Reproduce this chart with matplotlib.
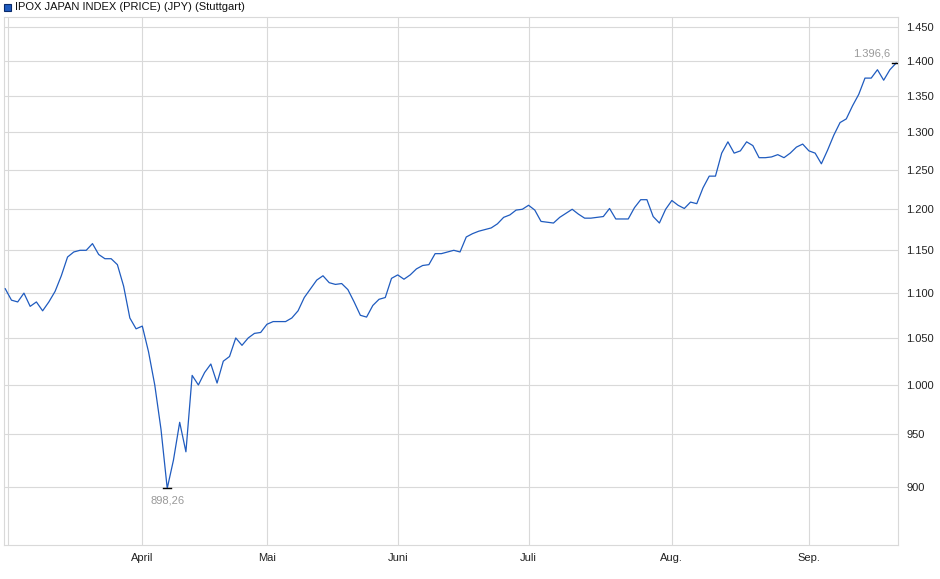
import matplotlib
matplotlib.use("Agg")
import matplotlib.pyplot as plt
from matplotlib.ticker import FixedLocator, NullLocator

values = [1105,1092,1090,1100,1085,1090,1080,1090,1102,1120,1142,1148,1150,1150,1158,1145,1140,1140,1133,1108,
          1072,1060,1063,1035,1000,955,898.26,925,962,933,1010,1000,1013,1022,1002,1025,1030,1050,1042,1050,
          1055,1056,1065,1068,1068,1068,1072,1080,1095,1105,1115,1120,1112,1110,1111,1104,1090,1075,1073,1086,
          1093,1095,1117,1121,1116,1121,1128,1132,1133,1146,1146,1148,1150,1148,1166,1170,1173,1175,1177,1182,
          1190,1193,1199,1200,1205,1199,1185,1184,1183,1190,1195,1200,1194,1189,1189,1190,1191,1201,1188,1188,
          1188,1202,1212,1212,1191,1183,1200,1211,1205,1201,1209,1207,1227,1242,1242,1272,1287,1272,1275,1287,
          1282,1266,1266,1267,1270,1266,1272,1280,1284,1275,1272,1258,1276,1296,1313,1318,1336,1352,1375,1375,
          1387,1372,1387,1396.6]
month_labels = ["April", "Mai", "Juni", "Juli", "Aug.", "Sep."]
month_idx = [22, 42, 63, 84, 107, 129]
y_ticks = [900, 950, 1000, 1050, 1100, 1150, 1200, 1250, 1300, 1350, 1400, 1450]
min_label = "898,26"
max_label = "1.396,6"

plt.rcParams['font.family'] = ['Liberation Sans', 'DejaVu Sans']
fig = plt.figure(figsize=(9.4, 5.79), dpi=100)
ax = fig.add_axes([4/940, 1-545/579, 894/940, 528/579])
n = len(values)
x = list(range(n))
ax.plot(x, values, color="#1f5bbf", lw=0.9, zorder=3)
ax.set_yscale("log")
ax.set_ylim(847, 1465)
ax.set_xlim(-0.2, n - 1 + 0.3)
ax.yaxis.set_major_locator(FixedLocator(y_ticks))
ax.yaxis.set_minor_locator(NullLocator())
ax.set_yticklabels([f"{v:,}".replace(",", ".") for v in y_ticks])
ax.yaxis.tick_right()
ax.set_xticks(month_idx)
ax.set_xticklabels(month_labels)
ax.tick_params(axis="both", length=0, labelsize=8, colors="#222222", pad=6)
ax.grid(True, color="#d9d9d9", lw=0.8, zorder=0)
ax.axvline(0.5, color="#d9d9d9", lw=0.8, zorder=0)
for s in ax.spines.values():
    s.set_color("#d9d9d9")
    s.set_linewidth(0.8)

imin = values.index(min(values))
imax = values.index(max(values))
ax.plot([imin - 0.6, imin + 0.6], [values[imin]] * 2, color="black", lw=1, zorder=4)
ax.plot([imax - 0.6, imax + 0.6], [values[imax]] * 2, color="black", lw=1, zorder=4)
ax.annotate(min_label, (imin, values[imin]), xytext=(0, -5), textcoords="offset points",
            ha="center", va="top", fontsize=8, color="#999999")
ax.annotate(max_label, (imax, values[imax]), xytext=(-4, 3), textcoords="offset points",
            ha="right", va="bottom", fontsize=8, color="#999999")

fig.patches.append(plt.Rectangle((4/940, 1-11/579), 7/940, 7/579, transform=fig.transFigure,
                                 facecolor="#1f5bbf", edgecolor="#0a2a6a", lw=0.8))
fig.text(15/940, 1-7.5/579, "IPOX JAPAN INDEX (PRICE) (JPY) (Stuttgart)", fontsize=8, va="center", color="#111111")
fig.savefig("out.png", dpi=100)
